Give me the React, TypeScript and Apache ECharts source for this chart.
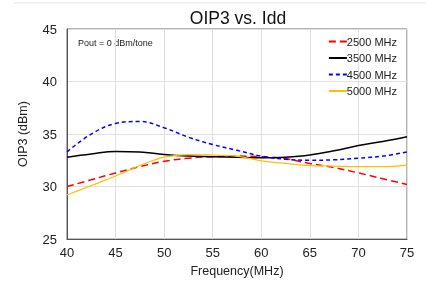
import React, { useEffect, useRef } from "react";
import * as echarts from "echarts";

const freq = [40, 42.5, 45, 47.5, 50, 52.5, 55, 57.5, 60, 62.5, 65, 67.5, 70, 72.5, 75];
const s2500 = [30.0, 30.65, 31.3, 31.9, 32.4, 32.7, 32.85, 32.9, 32.85, 32.65, 32.2, 31.8, 31.3, 30.75, 30.2];
const s3500 = [32.8, 33.1, 33.35, 33.3, 33.05, 32.9, 32.85, 32.8, 32.75, 32.8, 33.0, 33.4, 33.9, 34.3, 34.75];
const s4500 = [33.3, 35.0, 36.0, 36.2, 35.6, 34.7, 34.0, 33.45, 32.9, 32.6, 32.5, 32.55, 32.7, 32.9, 33.3];
const s5000 = [29.2, 30.1, 31.0, 32.0, 32.8, 33.05, 33.0, 32.9, 32.45, 32.2, 32.0, 31.95, 31.9, 31.9, 32.05];
const seriesNames = ["2500 MHz", "3500 MHz", "4500 MHz", "5000 MHz"];

export default function App() {
  const ref = useRef<HTMLDivElement>(null);
  useEffect(() => {
    const chart = echarts.init(ref.current!, undefined, { renderer: "svg" });
    const font = "Liberation Sans, Arial, sans-serif";
    const mk = (name: string, vals: number[], color: string, type: any, width: number) => ({
      name,
      type: "line",
      data: freq.map((f, i) => [f, vals[i]]),
      smooth: 0.4,
      symbol: "none",
      lineStyle: { color, type, width },
      itemStyle: { color },
    });
    chart.setOption({
      animation: false,
      textStyle: { fontFamily: font },
      title: {
        text: "OIP3 vs. Idd",
        left: 233,
        textAlign: "center",
        top: 4,
        textStyle: { fontSize: 17.5, fontWeight: "normal", color: "#111", fontFamily: font },
      },
      grid: { left: 67, right: 19, top: 29, bottom: 36, show: true, borderColor: "#666", borderWidth: 1 },
      legend: {
        orient: "vertical",
        right: 24,
        top: 31,
        itemWidth: 18,
        itemHeight: 10,
        itemGap: 5.5,
        itemStyle: { opacity: 0 },
        textStyle: { fontSize: 11, color: "#222", fontFamily: font, padding: [0, 0, 0, -5] },
        data: seriesNames,
      },
      xAxis: {
        type: "value",
        min: 40,
        max: 75,
        interval: 5,
        name: "Frequency(MHz)",
        nameLocation: "middle",
        nameGap: 21,
        nameTextStyle: { fontSize: 12.5, color: "#222" },
        axisLine: { show: true, lineStyle: { color: "#555" } },
        axisTick: { show: false },
        axisLabel: { fontSize: 13, color: "#222", margin: 7 },
        splitLine: { show: true, lineStyle: { color: "#e0e0e0" } },
      },
      yAxis: {
        type: "value",
        min: 25,
        max: 45,
        interval: 5,
        name: "OIP3 (dBm)",
        nameLocation: "middle",
        nameGap: 38,
        nameTextStyle: { fontSize: 12.5, color: "#222" },
        axisLine: { show: true, lineStyle: { color: "#555" } },
        axisTick: { show: false },
        axisLabel: { fontSize: 13, color: "#222", margin: 10 },
        splitLine: { show: true, lineStyle: { color: "#e0e0e0" } },
      },
      graphic: [
        {
          type: "line",
          shape: { x1: 14, y1: 3, x2: 426, y2: 3 },
          style: { stroke: "#e6e6e6", lineWidth: 1 },
        },
        {
          type: "text",
          left: 78,
          top: 38,
          style: { text: "Pout = 0 dBm/tone", fontSize: 9, fill: "#222", fontFamily: font },
        },
      ],
      series: [
        mk(seriesNames[0], s2500, "#ff0000", [7, 4], 1.5),
        mk(seriesNames[1], s3500, "#000000", "solid", 1.5),
        mk(seriesNames[2], s4500, "#0000ff", [4, 3], 1.5),
        mk(seriesNames[3], s5000, "#ffc000", "solid", 1.2),
      ],
    });
    return () => chart.dispose();
  }, []);
  return <div ref={ref} style={{ position: "fixed", left: 0, top: 0, width: 426, height: 282 }} />;
}
